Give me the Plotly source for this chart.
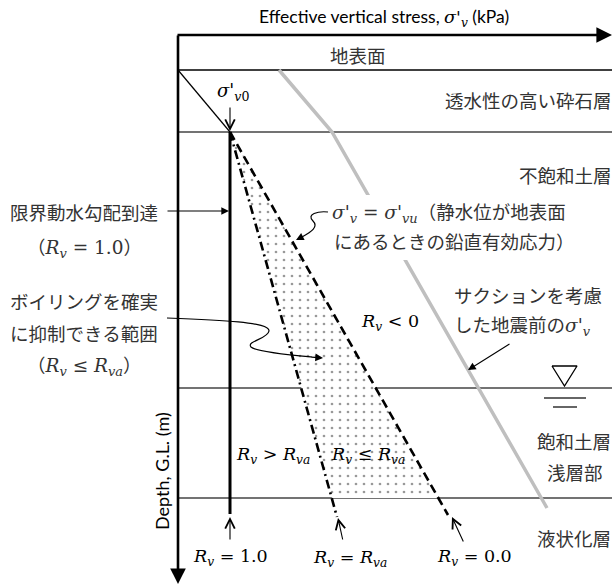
import plotly.graph_objects as go

# ---------------- diagram data (chart units: x = effective stress scale, y = depth scale) ----------------
layer_depths = [70, 132, 388, 498]           # ground surface / gravel bottom / water table / shallow-layer bottom
layer_colors = ["#000000", "#444444", "#444444", "#444444"]

sv0_x = [178, 230]                           # sigma'_v0 at base of gravel layer
sv0_y = [70, 132]
rv1_x = [230, 230]                           # R_v = 1.0 (critical gradient)
rv1_y = [132, 514]
rva_x = [230, 337]                           # R_v = R_va
rva_y = [132, 517]
rv0_x = [230, 448]                           # R_v = 0.0  (sigma'_v = sigma'_vu)
rv0_y = [132, 515]
suction_x = [279, 332, 547]                  # sigma'_v before earthquake (with suction)
suction_y = [70, 132, 508]
zone_x = [230, 332, 438, 230]                # R_v <= R_va zone
zone_y = [132, 498, 498, 132]
wt_tri_x = [552, 577, 564.5, 552]            # water table symbol
wt_tri_y = [366, 366, 386, 366]

CJK = "Noto Sans CJK JP"
MATH = "DejaVu Serif"
LAT = "Lato"
TXT = "#333333"

def m(s):
    return '<span style="font-family:%s">%s</span>' % (MATH, s)

R = "<i>R</i><sub><i>v</i></sub>"
RVA = "<i>R</i><sub><i>va</i></sub>"
SIG = "<i>σ</i>'<sub><i>v</i></sub>"

fig = go.Figure()

# stipple zone
fig.add_trace(go.Scatter(x=zone_x, y=zone_y, mode="lines", fill="toself",
                         line=dict(width=0, color="rgba(0,0,0,0)"),
                         fillcolor="white",
                         fillpattern=dict(shape=".", fgcolor="#333333", bgcolor="white",
                                          size=8, solidity=0.09),
                         hoverinfo="skip"))
# suction line (gray)
fig.add_trace(go.Scatter(x=suction_x, y=suction_y, mode="lines",
                         line=dict(color="#bfbfbf", width=3.5), hoverinfo="skip"))
# sigma'_v0 thin diagonal
fig.add_trace(go.Scatter(x=sv0_x, y=sv0_y, mode="lines",
                         line=dict(color="black", width=1.2), hoverinfo="skip"))
# R_v = R_va dash-dot
fig.add_trace(go.Scatter(x=rva_x, y=rva_y, mode="lines",
                         line=dict(color="black", width=2.6, dash="9px,4px,2px,4px"), hoverinfo="skip"))
# R_v = 0 dashed
fig.add_trace(go.Scatter(x=rv0_x, y=rv0_y, mode="lines",
                         line=dict(color="black", width=2.6, dash="9px,5px"), hoverinfo="skip"))
# R_v = 1.0 thick
fig.add_trace(go.Scatter(x=rv1_x, y=rv1_y, mode="lines",
                         line=dict(color="black", width=3), hoverinfo="skip"))
# water table triangle
fig.add_trace(go.Scatter(x=wt_tri_x, y=wt_tri_y, mode="lines",
                         line=dict(color="black", width=1.3), hoverinfo="skip"))

shapes = []
for d, c in zip(layer_depths, layer_colors):
    shapes.append(dict(type="line", xref="x", yref="y", x0=178, x1=612, y0=d, y1=d,
                       line=dict(color=c, width=1.5), layer="below"))
# water table bars
shapes.append(dict(type="line", xref="x", yref="y", x0=544, x1=586, y0=398, y1=398,
                   line=dict(color="#333", width=1.5)))
shapes.append(dict(type="line", xref="x", yref="y", x0=553, x1=577, y0=407, y1=407,
                   line=dict(color="#333", width=1.5)))
# white box behind sigma'_vu text (hides gray line)
shapes.append(dict(type="rect", xref="x", yref="y", x0=330, x1=592, y0=195, y1=260,
                   fillcolor="white", line=dict(width=0), layer="above"))
# wavy leader for boiling zone
shapes.append(dict(type="path", xref="x", yref="y", layer="above",
                   path="M 167,318 C 220,320 270,322 269,331 C 268,339 246,341 251,347 C 256,352 290,355 312,357",
                   line=dict(color="black", width=1.2)))
# squiggle leader for sigma'_vu
shapes.append(dict(type="path", xref="x", yref="y", layer="above",
                   path="M 328,212 C 318,211 306,214 313,221 C 319,227 311,232 302,237",
                   line=dict(color="black", width=1.2)))

ann = []

def arrow(x, y, ax, ay, head=5, width=1.2, size=1.6, color="black"):
    ann.append(dict(x=x, y=y, ax=ax, ay=ay, xref="x", yref="y", axref="x", ayref="y",
                    text="", showarrow=True, arrowhead=head, arrowwidth=width,
                    arrowsize=size, arrowcolor=color, standoff=0, startstandoff=0))

def txt(x, y, s, size=18.5, family=CJK, anchor="center", color=TXT, angle=0):
    ann.append(dict(x=x, y=y, xref="x", yref="y", text=s, showarrow=False,
                    font=dict(family=family, size=size, color=color),
                    xanchor=anchor, yanchor="middle", textangle=angle))

# axes
arrow(612, 35, 176, 35, head=2, width=2.6, size=1.2)
arrow(178, 584, 178, 34, head=2, width=2.6, size=1.2)

# leader arrows
arrow(230, 131, 230, 106, head=5, width=1.1, size=1.7)          # sigma'_v0
arrow(229, 211, 166, 211, head=2, width=1.1, size=1.4)          # critical gradient
arrow(323, 358, 310, 357, head=2, width=1.1, size=1.4)          # boiling zone
arrow(296, 240, 302, 237, head=2, width=1.1, size=1.4)          # sigma'_vu
arrow(468, 370, 511, 343, head=2, width=1.1, size=1.4)          # suction line
arrow(230, 517, 230, 541, head=5, width=1.1, size=1.7)          # R_v = 1.0
arrow(338, 518, 343, 541, head=5, width=1.1, size=1.7)          # R_v = R_va
arrow(452, 517, 464, 543, head=5, width=1.1, size=1.7)          # R_v = 0.0

# titles
txt(384, 18, "Effective vertical stress, " + m(SIG) + " (kPa)", size=17.5, family=LAT, color="black")
txt(162, 471, "Depth, G.L. (m)", size=18, family=LAT, color="black", angle=-90)

# layer names
txt(358, 55, "地表面")
txt(443, 100, "透水性の高い砕石層", anchor="left")
txt(517, 175, "不飽和土層", anchor="left")
txt(535, 441, "飽和土層", anchor="left")
txt(545, 472, "浅層部", anchor="left")
txt(535, 538, "液状化層", anchor="left")

# left notes
txt(84, 212, "限界動水勾配到達")
txt(84, 247, "（" + m(R + " = 1.0") + "）")
txt(84, 301, "ボイリングを確実")
txt(84, 333, "に抑制できる範囲")
txt(84, 365, "（" + m(R + " ≤ " + RVA) + "）")

# sigma'_vu note
txt(330, 212, m(SIG + " = <i>σ</i>'<sub><i>vu</i></sub>") + "（静水位が地表面", anchor="left")
txt(332, 241, "にあるときの鉛直有効応力）", anchor="left")

# suction note
txt(452, 295, "サクションを考慮", anchor="left")
txt(452, 325, "した地震前の" + m(SIG), anchor="left")

# sigma'_v0 label
txt(233, 92, m("<i>σ</i>'<sub><i>v</i>0</sub>"), size=18, color="black")

# region labels
txt(390, 322, m(R + " &lt; 0"), size=17.5, color="black")
txt(273, 455, m(R + " &gt; " + RVA), size=17.5, color="black")
txt(368, 455, m(R + " ≤ " + RVA), size=17.5, color="black")

# bottom labels
txt(230, 557, m(R + " = 1.0"), size=17.5, color="black")
txt(350, 558, m(R + " = " + RVA), size=17.5, color="black")
txt(474, 557, m(R + " = 0.0"), size=17.5, color="black")

fig.update_layout(
    width=612, height=585,
    margin=dict(l=0, r=0, t=0, b=0),
    paper_bgcolor="white", plot_bgcolor="white",
    showlegend=False,
    xaxis=dict(range=[0, 612], visible=False, fixedrange=True),
    yaxis=dict(range=[585, 0], visible=False, fixedrange=True),
    shapes=shapes,
    annotations=ann,
)

fig.write_html("out.html")
